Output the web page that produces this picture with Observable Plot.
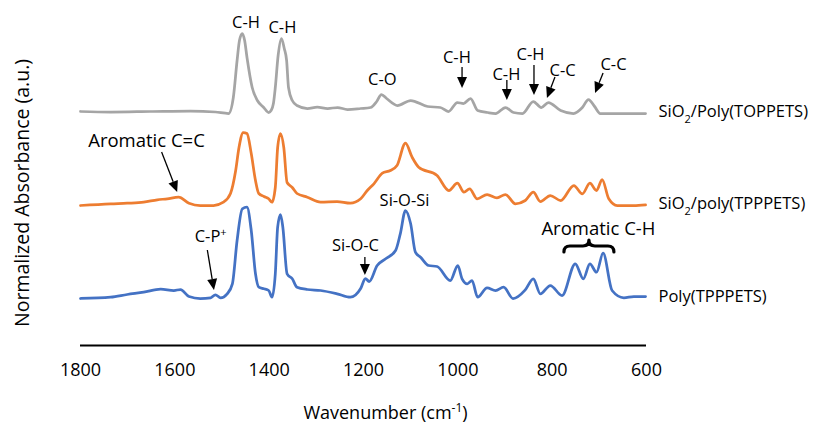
<!DOCTYPE html>
<html><head><meta charset="utf-8">
<script src="https://cdn.jsdelivr.net/npm/d3@7"></script>
<script src="https://cdn.jsdelivr.net/npm/@observablehq/plot@0.6"></script>
<style>body{margin:0;background:#fff}#chart svg{display:block}</style>
</head><body><div id="chart"></div>
<script>
// ---- Data ----
const wnGray  = [1800,1736,1652,1567,1514,1486,1476,1468,1463,1457,1452,1447,1436,1425,1412,1401,1396,1391,1387,1381,1374,1368,1363,1359,1351,1341,1319,1298,1276,1255,1234,1206,1185,1172,1162,1151,1128,1100,1064,1037,1020,1001,988,973,958,937,920,899,882,863,840,823,808,782,755,736,723,710,698,670,602];
const absGray = [0.02,0.015,0.02,0.025,0.015,0.00,0.16,0.53,0.73,0.80,0.73,0.56,0.26,0.13,0.063,0.01,0.03,0.10,0.26,0.58,0.75,0.65,0.53,0.26,0.13,0.08,0.05,0.063,0.05,0.06,0.04,0.05,0.06,0.12,0.19,0.15,0.08,0.13,0.07,0.06,0.02,0.11,0.10,0.15,0.03,0.01,0.00,0.06,0.01,0.00,0.12,0.06,0.11,0.03,0.00,0.06,0.14,0.07,0.00,0.00,0.00];

const wnOrange  = [1800,1736,1701,1666,1637,1616,1592,1570,1546,1518,1497,1482,1471,1464,1455,1447,1438,1429,1422,1411,1401,1394,1387,1382,1376,1369,1362,1351,1341,1319,1291,1256,1228,1206,1192,1178,1160,1143,1129,1111,1097,1083,1044,1019,1001,987,975,959,938,917,899,878,857,840,825,804,782,754,736,720,706,694,680,662,627,602];
const absOrange = [0.00,0.017,0.023,0.033,0.057,0.067,0.083,0.023,0.00,0.00,0.033,0.12,0.35,0.58,0.73,0.72,0.52,0.25,0.12,0.09,0.067,0.033,0.18,0.58,0.72,0.58,0.23,0.18,0.12,0.083,0.033,0.04,0.023,0.067,0.15,0.217,0.323,0.35,0.40,0.623,0.483,0.383,0.30,0.15,0.223,0.133,0.167,0.067,0.11,0.077,0.11,0.017,0.05,0.133,0.04,0.10,0.05,0.20,0.117,0.223,0.15,0.26,0.067,0.00,0.00,0.007];

const wnBlue  = [1800,1736,1701,1666,1630,1602,1588,1570,1546,1524,1514,1503,1489,1478,1468,1457,1447,1438,1429,1422,1411,1401,1394,1387,1382,1376,1371,1362,1351,1341,1319,1291,1256,1228,1206,1196,1188,1171,1153,1132,1122,1111,1100,1090,1079,1062,1044,1016,1000,991,980,970,958,938,920,903,883,857,840,825,804,779,751,734,720,706,692,673,648,627,602];
const absBlue = [0.00,0.013,0.04,0.063,0.093,0.08,0.09,0.02,0.00,0.007,0.037,0.007,0.047,0.147,0.58,0.897,0.913,0.68,0.247,0.113,0.097,0.08,0.013,0.247,0.713,0.84,0.713,0.247,0.197,0.113,0.09,0.08,0.047,0.013,0.10,0.20,0.17,0.33,0.397,0.48,0.647,0.88,0.747,0.463,0.413,0.33,0.32,0.18,0.33,0.197,0.147,0.18,0.013,0.107,0.08,0.113,0.00,0.087,0.197,0.047,0.13,0.03,0.347,0.197,0.347,0.263,0.453,0.08,0.007,0.02,0.02];

const seriesNames   = ["SiO2/Poly(TOPPETS)", "SiO2/poly(TPPPETS)", "Poly(TPPPETS)"];
const seriesColors  = ["#A5A5A5", "#ED7D31", "#4472C4"];
const seriesOffsets = [2.32, 1.40, 0.47];
const xTicks = [1800, 1600, 1400, 1200, 1000, 800, 600];

const noteText = ["C-H","C-H","C-O","C-H","C-H","C-H","C-C","C-C","Aromatic C=C","C-P+","Si-O-C","Si-O-Si","Aromatic C-H"];
const noteWn   = [1449,1372,1160,1002,897,846,778,670,1660,1524,1217,1113,702];
const noteAbs  = [3.23,3.18,2.66,2.88,2.71,2.91,2.75,2.81,2.04,1.09,1.00,1.45,1.16];

const arrowWn1  = [990,895,837.5,793,691,1627,1530,1196];
const arrowAbs1 = [2.78,2.65,2.80,2.68,2.72,1.93,0.95,0.88];
const arrowWn2  = [990,895,837.5,810,708,1594,1516,1196];
const arrowAbs2 = [2.57,2.45,2.50,2.47,2.52,1.53,0.55,0.70];

const braceWn  = [774, 668];
const braceAbs = [0.93, 1.05];

// ---- Build tables ----
const spectra = [[wnGray,absGray],[wnOrange,absOrange],[wnBlue,absBlue]].map(([wn, ab], s) =>
  wn.map((w, i) => ({w, a: ab[i] + seriesOffsets[s], s})));
const notes = noteText.map((t, i) => ({t, w: noteWn[i], a: noteAbs[i]}));
const arrows = arrowWn1.map((w, i) => ({w1: w, a1: arrowAbs1[i], w2: arrowWn2[i], a2: arrowAbs2[i]}));
const labels = seriesNames.map((n, i) => ({n, w: 600, a: seriesOffsets[i] + 0.02}));

const FONT = "'Open Sans', 'Noto Sans', sans-serif";

function arrowMark(index, scales) {
  const g = d3.create("svg:g");
  for (const d of arrows) {
    const x1 = scales.x(d.w1), y1 = scales.y(d.a1), x2 = scales.x(d.w2), y2 = scales.y(d.a2);
    const ang = Math.atan2(y2 - y1, x2 - x1), L = 11, W = 5;
    const bx = x2 - L * Math.cos(ang), by = y2 - L * Math.sin(ang);
    g.append("line").attr("x1", x1).attr("y1", y1).attr("x2", bx).attr("y2", by)
      .attr("stroke", "#000").attr("stroke-width", 1.3);
    g.append("path").attr("d", `M${x2},${y2}L${bx + W*Math.sin(ang)},${by - W*Math.cos(ang)}L${bx - W*Math.sin(ang)},${by + W*Math.cos(ang)}Z`)
      .attr("fill", "#000");
  }
  return g.node();
}

function braceMark(index, scales) {
  const xa = scales.x(braceWn[0]), xb = scales.x(braceWn[1]);
  const yb = scales.y(braceAbs[0]), yt = scales.y(braceAbs[1]);
  const xm = (xa + xb) / 2, ym = (yb + yt) / 2, r = 6;
  const d = `M${xa},${yb} Q${xa},${ym} ${xa + r},${ym} L${xm - r},${ym} Q${xm},${ym} ${xm},${yt} Q${xm},${ym} ${xm + r},${ym} L${xb - r},${ym} Q${xb},${ym} ${xb},${yb}`;
  const g = d3.create("svg:g");
  g.append("path").attr("d", d).attr("fill", "none").attr("stroke", "#000")
    .attr("stroke-width", 3.2).attr("stroke-linejoin", "round").attr("stroke-linecap", "round");
  return g.node();
}

const chart = Plot.plot({
  width: 815, height: 429,
  marginLeft: 80, marginRight: 169, marginTop: 10, marginBottom: 84,
  style: {fontFamily: FONT, fontSize: "18px", background: "#fff", color: "#000"},
  x: {domain: [1800, 600], ticks: xTicks, tickSize: 0, tickPadding: 18, tickFormat: d => String(d), label: null},
  y: {domain: [0, 3.35], axis: null},
  marks: [
    Plot.ruleY([0], {stroke: "#000", strokeWidth: 2}),
    ...spectra.map((data, s) => Plot.line(data, {x: "w", y: "a", stroke: seriesColors[s], strokeWidth: 2.75,
      curve: "monotone-x", strokeLinejoin: "round", strokeLinecap: "round"})),
    Plot.text(notes, {x: "w", y: "a", text: "t", fontSize: d => d.t.length > 8 ? 18.5 : 16.5, fill: "#000", textAnchor: "middle", lineAnchor: "middle"}),
    arrowMark,
    braceMark,
    Plot.text(labels, {x: "w", y: "a", text: "n", dx: 12, textAnchor: "start", lineAnchor: "middle", fontSize: 16.5, fill: "#000"}),
    Plot.text(["Wavenumber (cm-1)"], {frameAnchor: "bottom", dx: 22, dy: 68, textAnchor: "middle", lineAnchor: "middle", fontSize: 18, fill: "#000"}),
    Plot.text(["Normalized Absorbance (a.u.)"], {frameAnchor: "left", rotate: -90, dx: -58, dy: 15, textAnchor: "middle", lineAnchor: "middle", fontSize: 19.5, fill: "#000"})
  ]
});

// sub/superscripts as real text
function rebuild(t, parts) {
  t.textContent = "";
  for (const p of parts) {
    const ts = document.createElementNS("http://www.w3.org/2000/svg", "tspan");
    ts.textContent = p.s;
    if (p.dy) ts.setAttribute("dy", p.dy);
    if (p.fs) ts.setAttribute("font-size", p.fs);
    t.appendChild(ts);
  }
}
chart.querySelectorAll("text").forEach(t => {
  if (t.querySelector("tspan")) return;
  const s = t.textContent;
  if (s.startsWith("SiO2")) rebuild(t, [{s: "SiO"}, {s: "2", dy: 6, fs: 11}, {s: s.slice(4), dy: -6}]);
  else if (s === "Wavenumber (cm-1)") rebuild(t, [{s: "Wavenumber (cm"}, {s: "-1", dy: -7, fs: 12}, {s: ")", dy: 7}]);
  else if (s === "C-P+") rebuild(t, [{s: "C-P"}, {s: "+", dy: -6, fs: 11}, {s: "", dy: 6}]);
});
document.getElementById("chart").appendChild(chart);
</script>
</body></html>
